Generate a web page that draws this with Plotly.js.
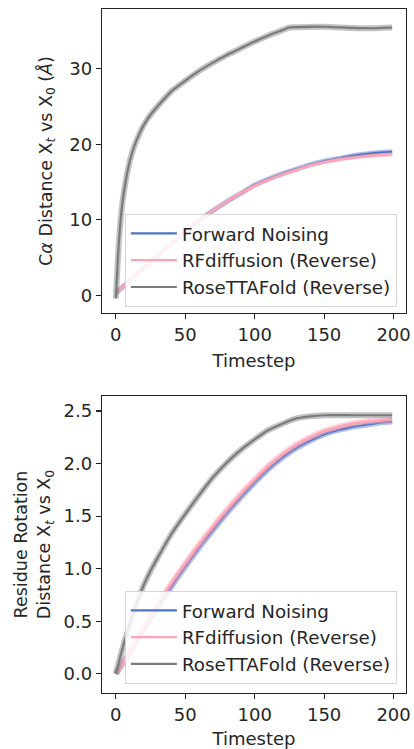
<!DOCTYPE html>
<html>
<head>
<meta charset="utf-8">
<script src="https://cdn.plot.ly/plotly-3.0.1.min.js"></script>
<style>html,body{margin:0;padding:0;background:#fff;}#chart{width:414px;height:749px;}</style>
</head>
<body>
<div id="chart"></div>
<script>
// ---- Data ----
const seriesNames = ["Forward Noising", "RFdiffusion (Reverse)", "RoseTTAFold (Reverse)"];

// Top panel: C-alpha distance (Å)
const caForwardT = [0, 10, 20, 30, 40, 50, 60, 70, 80, 90, 100, 110, 120, 130, 140, 150, 160, 170, 180, 190, 199];
const caForward  = [0.3, 1.9, 3.6, 5.2, 6.8, 8.3, 9.9, 11.2, 12.4, 13.5, 14.6, 15.4, 16.1, 16.7, 17.3, 17.75, 18.1, 18.45, 18.7, 18.9, 19.0];
const caRFdiffT  = [0, 10, 20, 30, 40, 50, 60, 70, 80, 90, 100, 110, 120, 130, 140, 150, 160, 170, 180, 190, 199];
const caRFdiff   = [0.3, 1.9, 3.6, 5.2, 6.8, 8.3, 9.9, 11.2, 12.4, 13.5, 14.5, 15.3, 16.0, 16.6, 17.2, 17.6, 17.95, 18.2, 18.4, 18.55, 18.65];
const caRoseT    = [0, 1, 2, 3, 4, 5, 7, 10, 13, 17, 20, 25, 30, 40, 50, 60, 70, 80, 90, 100, 110, 120, 125, 130, 150, 170, 185, 199];
const caRose     = [-0.4, 3.0, 6.5, 9.0, 11.0, 12.6, 15.0, 17.7, 19.6, 21.4, 22.5, 23.9, 25.0, 27.0, 28.4, 29.7, 30.8, 31.8, 32.7, 33.6, 34.4, 35.1, 35.45, 35.5, 35.55, 35.4, 35.35, 35.45];

// Bottom panel: residue rotation distance
const rotForwardT = [0, 10, 20, 30, 40, 50, 60, 70, 80, 90, 100, 110, 120, 130, 140, 150, 160, 170, 180, 190, 199];
const rotForward  = [0, 0.2, 0.42, 0.63, 0.83, 1.02, 1.2, 1.37, 1.53, 1.68, 1.82, 1.95, 2.06, 2.15, 2.22, 2.28, 2.32, 2.35, 2.37, 2.39, 2.4];
const rotRFdiffT  = [0, 10, 20, 30, 40, 50, 60, 70, 80, 90, 100, 110, 120, 130, 140, 150, 160, 170, 180, 190, 199];
const rotRFdiff   = [0, 0.21, 0.44, 0.66, 0.86, 1.05, 1.23, 1.4, 1.56, 1.71, 1.85, 1.98, 2.09, 2.18, 2.25, 2.31, 2.35, 2.38, 2.4, 2.41, 2.42];
const rotRoseT    = [0, 5, 10, 15, 20, 25, 30, 40, 50, 60, 70, 80, 90, 100, 110, 120, 130, 140, 150, 170, 199];
const rotRose     = [0, 0.25, 0.47, 0.67, 0.84, 0.98, 1.1, 1.33, 1.52, 1.7, 1.87, 2.01, 2.13, 2.23, 2.32, 2.38, 2.43, 2.45, 2.46, 2.46, 2.46];

const xTicks = [0, 50, 100, 150, 200];
const y1Ticks = [0, 10, 20, 30];
const y2Ticks = [0, 0.5, 1.0, 1.5, 2.0, 2.5];
const y2TickText = ["0.0", "0.5", "1.0", "1.5", "2.0", "2.5"];

// ---- Styles ----
const colors = ["#4f74c4", "#ffa3b5", "#7b7b7b"];
const bandColors = ["rgba(79,116,196,0.45)", "rgba(255,163,181,0.5)", "rgba(123,123,123,0.45)"];
const FONT = "DejaVu Sans";
const TXT = "#262626";

function pair(x, y, i, xa, ya, legendId, bandW) {
  return [
    {x: x, y: y, xaxis: xa, yaxis: ya, type: "scatter", mode: "lines",
     line: {color: bandColors[i], width: bandW, shape: "spline", smoothing: 0.7},
     showlegend: false, hoverinfo: "skip"},
    {x: x, y: y, xaxis: xa, yaxis: ya, type: "scatter", mode: "lines",
     name: seriesNames[i], legend: legendId,
     line: {color: colors[i], width: 2.2, shape: "spline", smoothing: 0.7},
     showlegend: true}
  ];
}

const traces = [].concat(
  pair(caForwardT, caForward, 0, "x", "y", "legend", 5),
  pair(caRFdiffT, caRFdiff, 1, "x", "y", "legend", 4),
  pair(caRoseT, caRose, 2, "x", "y", "legend", 6),
  pair(rotForwardT, rotForward, 0, "x2", "y2", "legend2", 6),
  pair(rotRFdiffT, rotRFdiff, 1, "x2", "y2", "legend2", 6),
  pair(rotRoseT, rotRose, 2, "x2", "y2", "legend2", 6)
);

const axisCommon = {
  showline: true, mirror: true, linecolor: "#222", linewidth: 1.2,
  ticks: "outside", ticklen: 5, tickwidth: 1.2, tickcolor: "#222",
  showgrid: false, zeroline: false,
  tickfont: {family: FONT, size: 18, color: TXT}
};

const legendCommon = {
  font: {family: FONT, size: 18.3, color: TXT},
  bgcolor: "rgba(255,255,255,0.85)", bordercolor: "#d6d6d6", borderwidth: 1,
  xanchor: "right", yanchor: "bottom", x: 0.97, itemwidth: 46
};

const layout = {
  width: 414, height: 749,
  margin: {l: 102, r: 8, t: 9, b: 56},
  paper_bgcolor: "#fff", plot_bgcolor: "#fff",
  font: {family: FONT, color: TXT},
  xaxis: Object.assign({}, axisCommon, {domain: [0, 1], anchor: "y", range: [-9.95, 208.95],
    tickvals: xTicks, title: {text: "Timestep", font: {family: FONT, size: 18, color: TXT}, standoff: 10}}),
  yaxis: Object.assign({}, axisCommon, {domain: [0.5556, 1], anchor: "x", range: [-2.34, 37.9],
    tickvals: y1Ticks,
    title: {text: "C<i>α</i> Distance X<sub><i>t</i></sub> vs X<sub>0</sub> (<i>Å</i>)", font: {family: FONT, size: 17.5, color: TXT}, standoff: 12}}),
  xaxis2: Object.assign({}, axisCommon, {domain: [0, 1], anchor: "y2", range: [-9.95, 208.95],
    tickvals: xTicks, title: {text: "Timestep", font: {family: FONT, size: 18, color: TXT}, standoff: 10}}),
  yaxis2: Object.assign({}, axisCommon, {domain: [0, 0.4342], anchor: "x2", range: [-0.183, 2.643],
    tickvals: y2Ticks, ticktext: y2TickText,
    title: {text: "Residue Rotation<br>Distance X<sub><i>t</i></sub> vs X<sub>0</sub>", font: {family: FONT, size: 17.5, color: TXT}, standoff: 8}}),
  legend: Object.assign({}, legendCommon, {y: 0.5643}),
  legend2: Object.assign({}, legendCommon, {y: 0.0132}),
  showlegend: true
};

Plotly.newPlot("chart", traces, layout, {staticPlot: true, displayModeBar: false});
</script>
</body>
</html>
